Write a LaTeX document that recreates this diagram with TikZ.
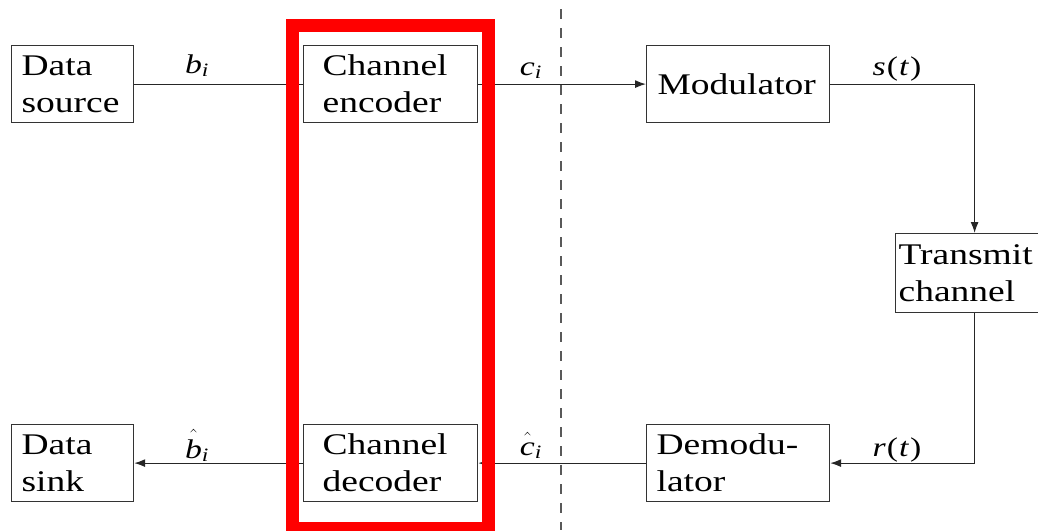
\documentclass[tikz,border=0pt]{standalone}
\usepackage{amsmath}
\usepackage{fontspec}
\setmainfont{Liberation Serif}[FakeStretch=1.25]
\usetikzlibrary{arrows.meta}

% italic letter with a hat lifted a little above it
\newcommand{\hatted}[2]{\hat{\raisebox{0pt}[#2]{\textit{#1}}}}

\begin{document}
\begin{tikzpicture}[x=1pt,y=-1pt,
  blk/.style={draw=black!80, line width=1.2pt, anchor=north west,
    minimum height=77pt, inner ysep=0pt, align=left,
    font=\fontsize{30}{37}\selectfont},
  wire/.style={draw=black!85, line width=1.2pt},
  flow/.style={wire, -{Latex[length=11pt,width=8pt]}},
  sig/.style={anchor=base, inner sep=0pt, font=\fontsize{27}{30}\selectfont},
  divider/.style={draw=black!65, line width=1.3pt, dash pattern=on 10pt off 9pt},
  highlight/.style={draw=red, line width=13pt}]

\useasboundingbox (0,0) rectangle (1038,530);
\clip (0,0) rectangle (1038,530);

% transmitter chain
\node[blk, inner xsep=10pt, text width=102pt] (src) at (11,45) {Data\\source};
\node[blk, inner xsep=19pt, text width=136pt] (enc) at (303,45) {Channel\\encoder};
\node[blk, inner xsep=11pt, text width=161pt] (mod) at (646,45) {Modulator};

% channel
\node[blk, inner xsep=3pt, text width=152pt, minimum height=79pt] (tx) at (895,233) {Transmit\\channel};

% receiver chain
\node[blk, inner xsep=10pt, text width=163pt] (dem) at (646,424) {Demodu-\\lator};
\node[blk, inner xsep=19pt, text width=136pt] (dec) at (303,424) {Channel\\decoder};
\node[blk, inner xsep=10pt, text width=102pt] (sink) at (11,424) {Data\\sink};

% connectors
\draw[wire] (src.east) -- (enc.west);
\draw[flow] (enc.east) -- (mod.west);
\draw[flow] (mod.east) -| (tx.north);
\draw[flow] (tx.south) |- (dem.east);
\draw[flow] (dem.west) -- (dec.east);
\draw[flow] (dec.west) -- (sink.east);

% signal names
\node[sig] (lb) at (197,73) {$\textit{b}_{\textit{i}}$};
\node[sig] (lc) at (531,75) {$\textit{c}_{\textit{i}}$};
\node[sig] (ls) at (897,75) {\textit{s}\kern1pt(\kern1pt\textit{t}\kern1pt)};
\node[sig] (lbh) at (197,458) {$\hatted{b}{0.82em}_{\textit{i}}$};
\node[sig] (lch) at (531,455) {$\hatted{c}{0.6em}_{\textit{i}}$};
\node[sig] (lr) at (897,456) {\textit{r}\kern1pt(\kern1pt\textit{t}\kern1pt)};

% boundary between coding and modulation
\coordinate (dtop) at (561,9);
\coordinate (dbot) at (561,530);
\draw[divider] (dtop) -- (dbot);

% highlighted channel coding blocks
\coordinate (hl1) at (292.5,25);
\coordinate (hl2) at (488.5,528);
\draw[highlight] (hl1) rectangle (hl2);
\end{tikzpicture}
\end{document}
